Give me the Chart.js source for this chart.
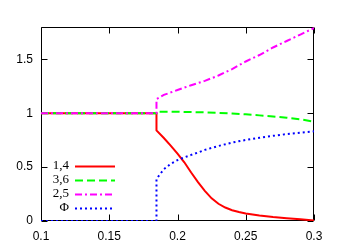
<!DOCTYPE html>
<html>
<head>
<meta charset="utf-8">
<script src="https://cdn.jsdelivr.net/npm/chart.js@4/dist/chart.umd.min.js"></script>
<style>
  html, body { margin: 0; padding: 0; background: #fff; }
  canvas { display: block; }
</style>
</head>
<body>
<canvas id="grafico" width="356" height="249"></canvas>
<script>
// datos
const xTicks = [0.1, 0.15, 0.2, 0.25, 0.3];
const yTicks = [0, 0.5, 1, 1.5];
const etiquetas = ['1,4', '3,6', '2,5', 'Φ'];

const xRojo = [0.1, 0.1846, 0.1846, 0.19, 0.195, 0.2, 0.205, 0.21, 0.215, 0.22, 0.225, 0.23, 0.235, 0.24, 0.245, 0.25, 0.26, 0.27, 0.28, 0.29, 0.3];
const yRojo = [1, 1, 0.84, 0.77, 0.70, 0.625, 0.545, 0.45, 0.36, 0.28, 0.21, 0.16, 0.125, 0.10, 0.083, 0.07, 0.052, 0.037, 0.026, 0.016, 0.005];

const xVerde = [0.1, 0.1846, 0.1846, 0.2, 0.22, 0.24, 0.25, 0.26, 0.27, 0.28, 0.29, 0.3];
const yVerde = [1, 1, 1.013, 1.013, 1.008, 0.998, 0.99, 0.98, 0.97, 0.958, 0.943, 0.922];

const xMagenta = [0.1, 0.1846, 0.1846, 0.19, 0.2, 0.21, 0.22, 0.23, 0.24, 0.25, 0.26, 0.27, 0.28, 0.29, 0.3];
const yMagenta = [1, 1, 1.13, 1.17, 1.215, 1.26, 1.30, 1.35, 1.41, 1.48, 1.54, 1.61, 1.67, 1.73, 1.79];

const xAzul = [0.1, 0.1846, 0.1846, 0.187, 0.19, 0.195, 0.2, 0.205, 0.21, 0.215, 0.22, 0.225, 0.23, 0.24, 0.25, 0.26, 0.27, 0.28, 0.29, 0.3];
const yAzul = [0, 0, 0.39, 0.43, 0.48, 0.53, 0.565, 0.59, 0.613, 0.635, 0.66, 0.678, 0.696, 0.728, 0.752, 0.772, 0.79, 0.806, 0.82, 0.832];

function puntos(xs, ys) {
    return xs.map((x, i) => ({ x: x, y: ys[i] }));
}

Chart.defaults.font.family = "'Liberation Sans', Arial, sans-serif";
Chart.defaults.font.size = 12;
Chart.defaults.color = '#000';

// marco y marcas hacia adentro, estilo gnuplot
const marcoPlugin = {
    id: 'marco',
    beforeDatasetsDraw(chart) {
        const ctx = chart.ctx;
        const a = chart.chartArea;
        const sx = chart.scales.x;
        const sy = chart.scales.y;
        const L = Math.round(a.left) + 0.5, R = Math.round(a.right) - 0.5;
        const T = Math.round(a.top) + 0.5, B = Math.round(a.bottom) - 0.5;
        ctx.save();
        ctx.strokeStyle = '#000';
        ctx.lineWidth = 1;
        ctx.beginPath();
        ctx.rect(L, T, R - L, B - T);
        xTicks.forEach(v => {
            const px = Math.round(sx.getPixelForValue(v)) + 0.5;
            ctx.moveTo(px, B); ctx.lineTo(px, B - 6);
            ctx.moveTo(px, T); ctx.lineTo(px, T + 6);
        });
        yTicks.forEach(v => {
            const py = Math.round(sy.getPixelForValue(v)) + 0.5;
            ctx.moveTo(L, py); ctx.lineTo(L + 6, py);
            ctx.moveTo(R, py); ctx.lineTo(R - 6, py);
        });
        ctx.stroke();
        ctx.restore();
    }
};

// leyenda: texto a la izquierda, muestra de linea a la derecha
const leyendaPlugin = {
    id: 'leyenda',
    afterDraw(chart) {
        const ctx = chart.ctx;
        ctx.save();
        ctx.font = "13px 'Liberation Serif', 'Times New Roman', serif";
        ctx.textAlign = 'right';
        ctx.textBaseline = 'middle';
        chart.data.datasets.forEach((ds, i) => {
            const y = 166 + i * 13.9;
            ctx.fillStyle = '#000';
            ctx.fillText(etiquetas[i], 69, y);
            ctx.strokeStyle = ds.borderColor;
            ctx.lineWidth = ds.borderWidth;
            ctx.setLineDash(ds.borderDash || []);
            ctx.beginPath();
            ctx.moveTo(75, Math.round(y) + 0.5);
            ctx.lineTo(115, Math.round(y) + 0.5);
            ctx.stroke();
        });
        ctx.restore();
    }
};

const estiloComun = { fill: false, pointRadius: 0, tension: 0, borderWidth: 2, borderCapStyle: 'butt' };

// order: como en gnuplot, la ultima serie queda encima
new Chart(document.getElementById('grafico'), {
    type: 'line',
    data: {
        datasets: [
            Object.assign({ label: etiquetas[0], data: puntos(xRojo, yRojo), borderColor: '#ff0000', order: 4 }, estiloComun),
            Object.assign({ label: etiquetas[1], data: puntos(xVerde, yVerde), borderColor: '#00ff00', borderDash: [8, 4], order: 3 }, estiloComun),
            Object.assign({ label: etiquetas[2], data: puntos(xMagenta, yMagenta), borderColor: '#ff00ff', borderDash: [7, 3, 2, 3], order: 2 }, estiloComun),
            Object.assign({ label: etiquetas[3], data: puntos(xAzul, yAzul), borderColor: '#0000ff', borderDash: [2, 3], order: 1 }, estiloComun)
        ]
    },
    options: {
        responsive: false,
        animation: false,
        devicePixelRatio: 1,
        layout: { padding: { top: 27, right: 42, left: 0, bottom: 0 } },
        plugins: { legend: { display: false }, tooltip: { enabled: false } },
        scales: {
            x: {
                type: 'linear',
                min: 0.1,
                max: 0.3,
                afterBuildTicks: s => { s.ticks = xTicks.map(v => ({ value: v })); },
                afterFit: s => { s.height = 28; },
                grid: { display: false, drawTicks: false },
                border: { display: false },
                ticks: { padding: 8, maxRotation: 0, autoSkip: false, callback: v => String(v) }
            },
            y: {
                min: 0,
                max: 1.8,
                afterBuildTicks: s => { s.ticks = yTicks.map(v => ({ value: v })); },
                afterFit: s => { s.width = 41; },
                grid: { display: false, drawTicks: false },
                border: { display: false },
                ticks: { padding: 8, callback: v => String(v) }
            }
        }
    },
    plugins: [marcoPlugin, leyendaPlugin]
});
</script>
</body>
</html>
